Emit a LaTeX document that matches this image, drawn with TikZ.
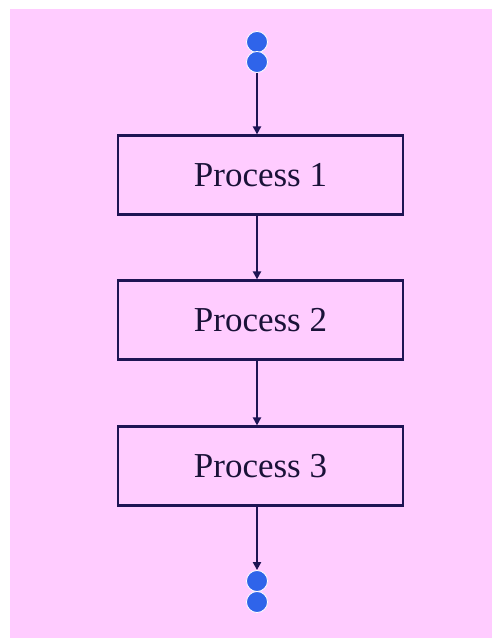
\documentclass[tikz,border=0pt]{standalone}
\usepackage{fontspec}
\setmainfont{Liberation Serif}
\usetikzlibrary{arrows.meta}
\definecolor{bgpink}{HTML}{FFCCFF}
\definecolor{navy}{HTML}{1E1454}
\definecolor{txtnavy}{HTML}{1A1238}
\definecolor{dotblue}{HTML}{2F64EA}
\tikzset{
  procbox/.style={draw=navy, line width=2.2pt, fill=bgpink, minimum width=285pt, minimum height=79pt, inner sep=0pt, font=\fontsize{35}{40}\selectfont, text=txtnavy},
  flow/.style={draw=navy, line width=2.2pt, -{Triangle[length=8pt,width=8pt]}},
  dotc/.style={circle, fill=dotblue, draw=white, line width=0.8pt, minimum size=21pt, inner sep=0pt}
}
\begin{document}
\begin{tikzpicture}[x=1pt,y=1pt]
\useasboundingbox (0,0) rectangle (492,644);
\fill[bgpink] (10,6) rectangle (492,635);
\node[dotc] (d1) at (257,602) {};
\node[dotc] (d2) at (257,582) {};
\node[procbox] (p1) at (260.5,469) {\raisebox{-3pt}{Process 1}};
\node[procbox] (p2) at (260.5,324) {\raisebox{-3pt}{Process 2}};
\node[procbox] (p3) at (260.5,178) {\raisebox{-3pt}{Process 3}};
\node[dotc] (d3) at (257,63) {};
\node[dotc] (d4) at (257,42) {};
\draw[flow] (d2.south) -- (d2.south |- p1.north);
\draw[flow] (p1.south -| d2) -- (p2.north -| d2);
\draw[flow] (p2.south -| d2) -- (p3.north -| d2);
\draw[flow] (p3.south -| d2) -- (d3.north);
\end{tikzpicture}
\end{document}
